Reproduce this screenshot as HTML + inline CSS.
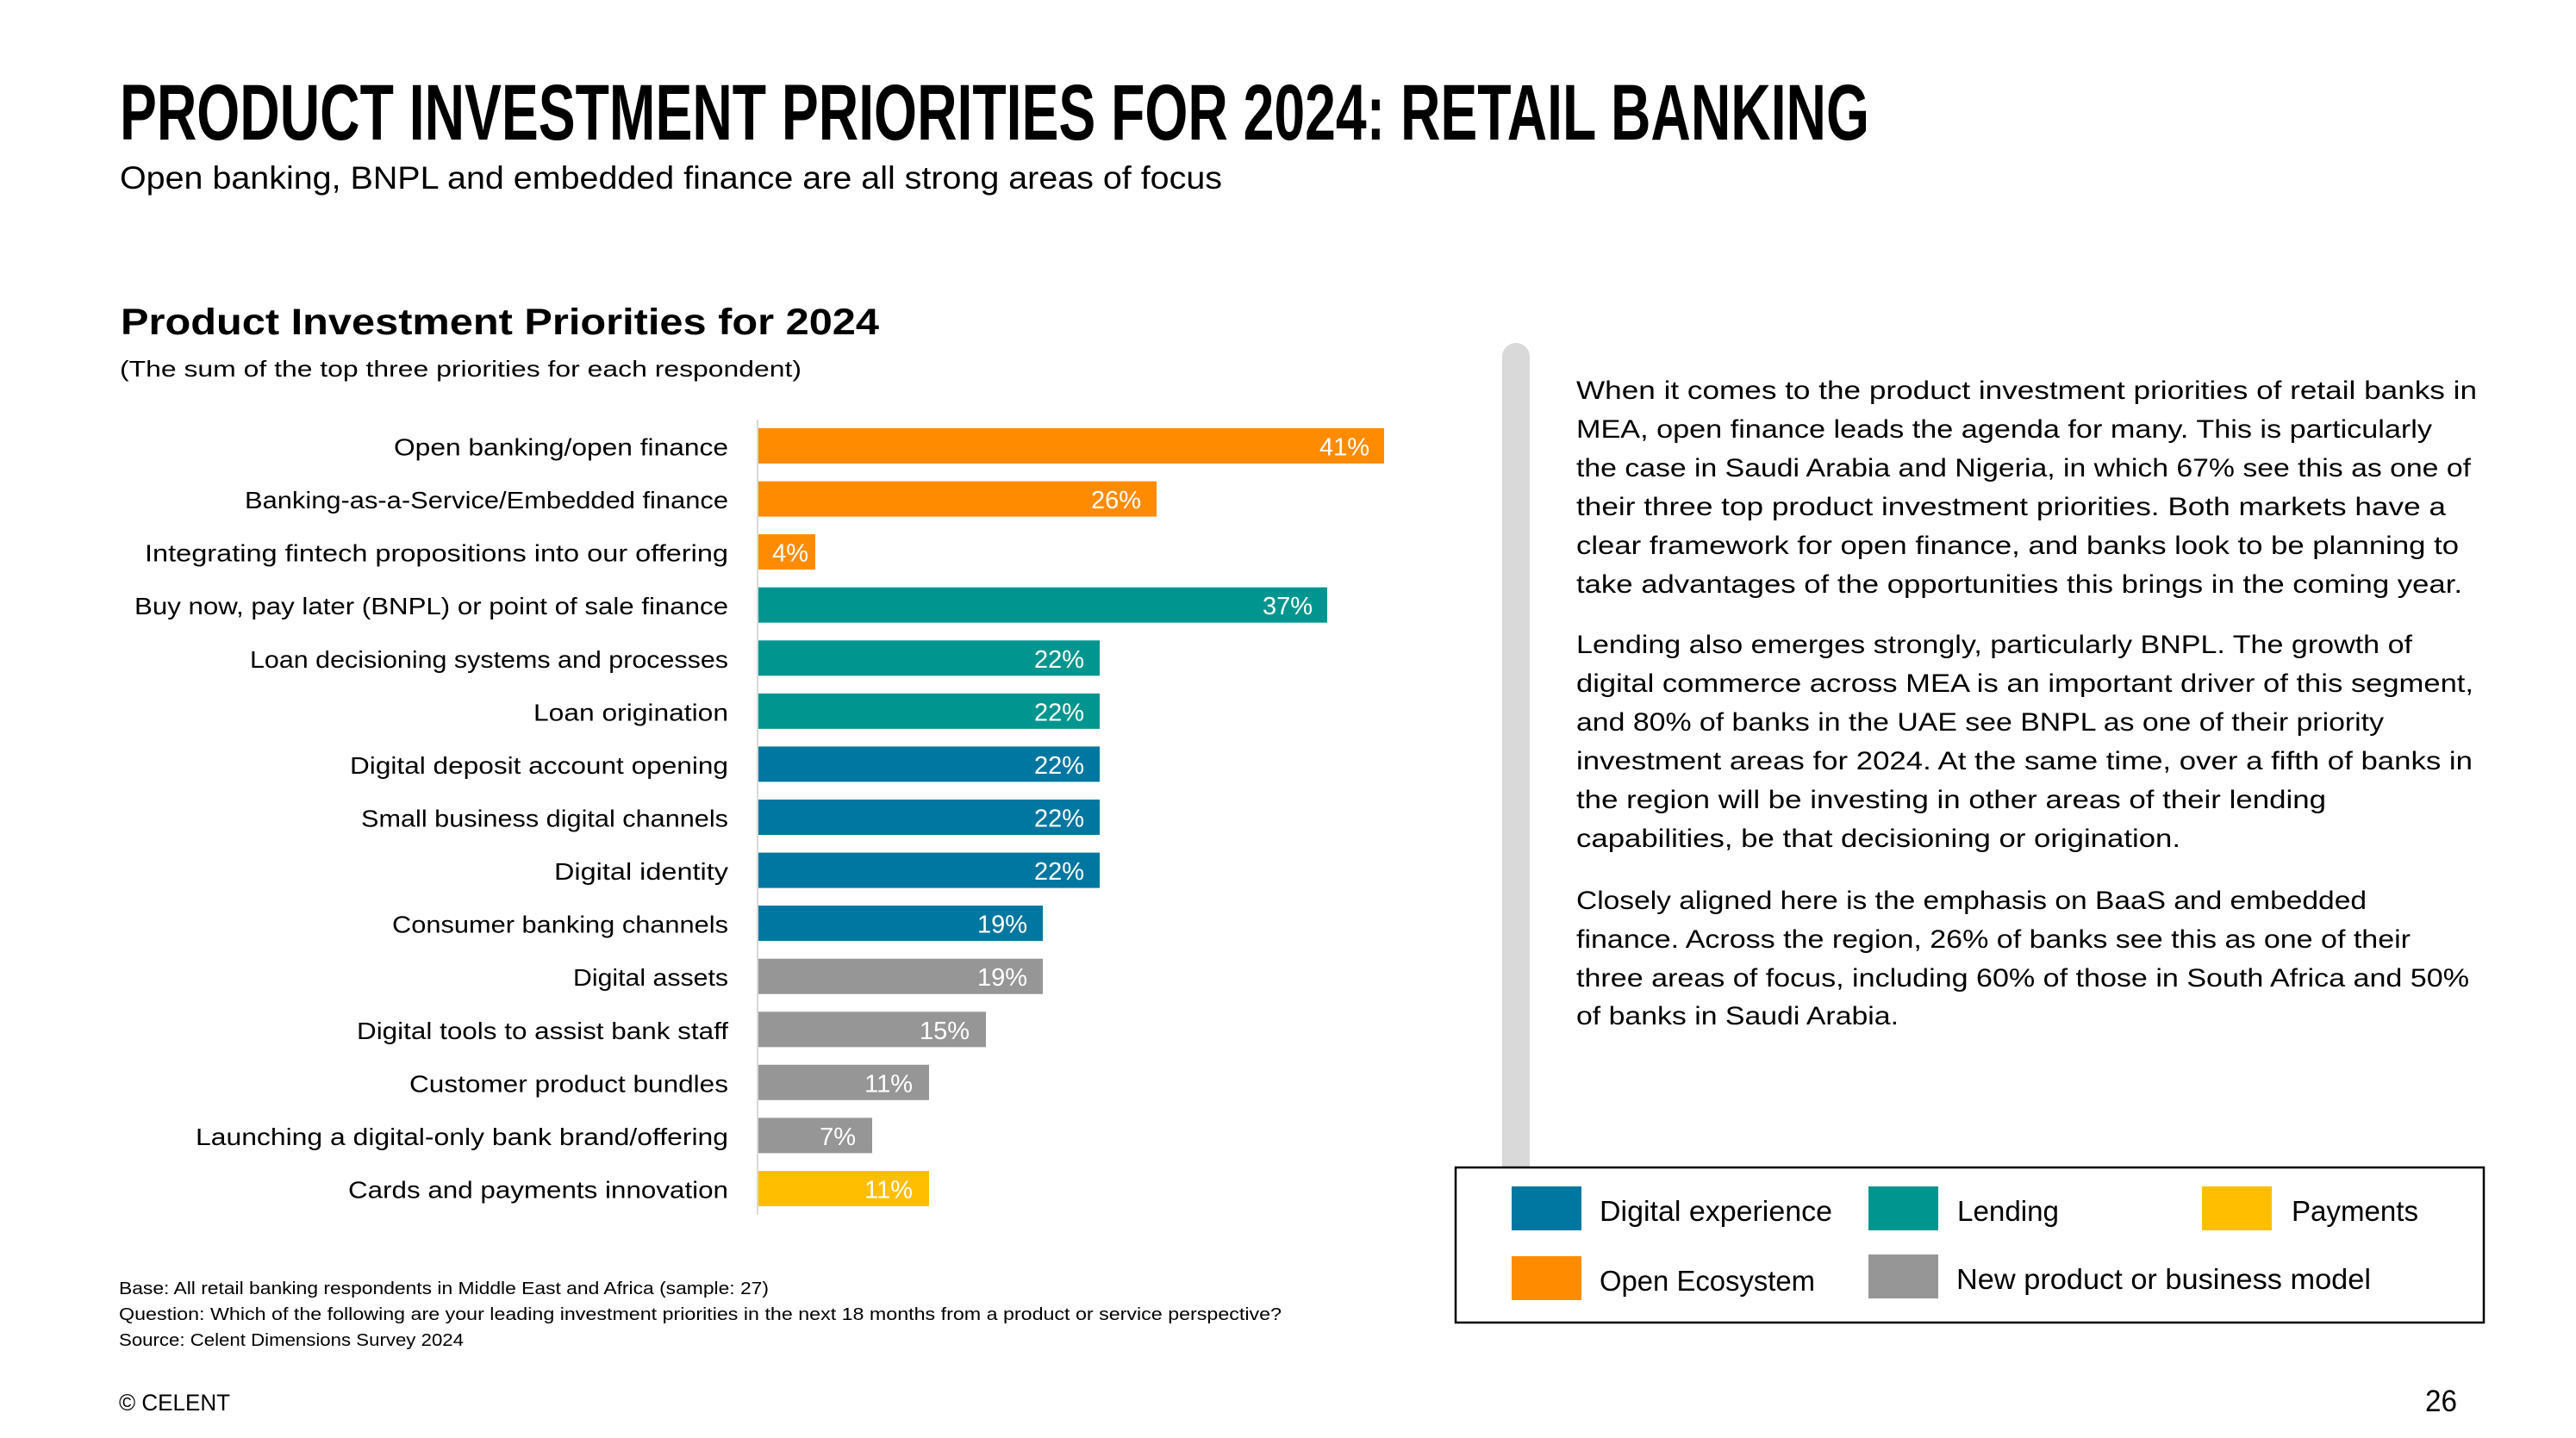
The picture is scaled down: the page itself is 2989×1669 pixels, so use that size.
<!DOCTYPE html>
<html>
<head>
<meta charset="utf-8">
<style>
  html, body { margin: 0; padding: 0; background: #ffffff; }
  body { width: 2989px; height: 1669px; overflow: hidden; }
  svg { display: block; font-family: "Liberation Sans", sans-serif; }
</style>
</head>
<body>
<svg xmlns="http://www.w3.org/2000/svg" width="2989" height="1669" viewBox="0 0 2989 1669" fill="#000000">
  <rect x="0" y="0" width="2989" height="1669" fill="#ffffff"/>

  <!-- Page title -->
  <text x="139" y="162" font-size="92" font-weight="bold" textLength="2030" lengthAdjust="spacingAndGlyphs">PRODUCT INVESTMENT PRIORITIES FOR 2024: RETAIL BANKING</text>
  <text x="139" y="219" font-size="37" textLength="1279" lengthAdjust="spacingAndGlyphs">Open banking, BNPL and embedded finance are all strong areas of focus</text>

  <!-- Chart title -->
  <text x="140" y="388" font-size="43" font-weight="bold" textLength="880" lengthAdjust="spacingAndGlyphs">Product Investment Priorities for 2024</text>
  <text x="139" y="437" font-size="26" textLength="791" lengthAdjust="spacingAndGlyphs">(The sum of the top three priorities for each respondent)</text>

  <!-- Axis line -->
  <line x1="879" y1="487" x2="879" y2="1410" stroke="#d9d9d9" stroke-width="2"/>

  <!-- Bars -->
  <g>
    <rect x="880" y="497"    width="726" height="41" fill="#FF8C00"/>
    <rect x="880" y="558.6"  width="462" height="41" fill="#FF8C00"/>
    <rect x="880" y="620.1"  width="66"  height="41" fill="#FF8C00"/>
    <rect x="880" y="681.7"  width="660" height="41" fill="#00968F"/>
    <rect x="880" y="743.3"  width="396" height="41" fill="#00968F"/>
    <rect x="880" y="804.9"  width="396" height="41" fill="#00968F"/>
    <rect x="880" y="866.4"  width="396" height="41" fill="#0077A0"/>
    <rect x="880" y="928.0"  width="396" height="41" fill="#0077A0"/>
    <rect x="880" y="989.6"  width="396" height="41" fill="#0077A0"/>
    <rect x="880" y="1051.1" width="330" height="41" fill="#0077A0"/>
    <rect x="880" y="1112.7" width="330" height="41" fill="#969696"/>
    <rect x="880" y="1174.3" width="264" height="41" fill="#969696"/>
    <rect x="880" y="1235.8" width="198" height="41" fill="#969696"/>
    <rect x="880" y="1297.4" width="132" height="41" fill="#969696"/>
    <rect x="880" y="1359.0" width="198" height="41" fill="#FFBF00"/>
  </g>

  <!-- Value labels -->
  <g font-size="29" text-anchor="end" fill="#ffffff">
    <text x="1589" y="528.5">41%</text>
    <text x="1324" y="590.1">26%</text>
    <text x="938"  y="651.6">4%</text>
    <text x="1523" y="713.2">37%</text>
    <text x="1258" y="774.8">22%</text>
    <text x="1258" y="836.4">22%</text>
    <text x="1258" y="897.9">22%</text>
    <text x="1258" y="959.5">22%</text>
    <text x="1258" y="1021.1">22%</text>
    <text x="1192" y="1082.6">19%</text>
    <text x="1192" y="1144.2">19%</text>
    <text x="1125" y="1205.8">15%</text>
    <text x="1059" y="1267.3">11%</text>
    <text x="993"  y="1328.9">7%</text>
    <text x="1059" y="1390.5">11%</text>
  </g>

  <!-- Category labels -->
  <g font-size="28" fill="#000000">
    <text x="457" y="528.5"  textLength="388" lengthAdjust="spacingAndGlyphs">Open banking/open finance</text>
    <text x="284" y="590.1"  textLength="561" lengthAdjust="spacingAndGlyphs">Banking-as-a-Service/Embedded finance</text>
    <text x="168" y="651.6"  textLength="677" lengthAdjust="spacingAndGlyphs">Integrating fintech propositions into our offering</text>
    <text x="156" y="713.2"  textLength="689" lengthAdjust="spacingAndGlyphs">Buy now, pay later (BNPL) or point of sale finance</text>
    <text x="290" y="774.8"  textLength="555" lengthAdjust="spacingAndGlyphs">Loan decisioning systems and processes</text>
    <text x="619" y="836.4"  textLength="226" lengthAdjust="spacingAndGlyphs">Loan origination</text>
    <text x="406" y="897.9"  textLength="439" lengthAdjust="spacingAndGlyphs">Digital deposit account opening</text>
    <text x="419" y="959.5"  textLength="426" lengthAdjust="spacingAndGlyphs">Small business digital channels</text>
    <text x="643" y="1021.1" textLength="202" lengthAdjust="spacingAndGlyphs">Digital identity</text>
    <text x="455" y="1082.6" textLength="390" lengthAdjust="spacingAndGlyphs">Consumer banking channels</text>
    <text x="665" y="1144.2" textLength="180" lengthAdjust="spacingAndGlyphs">Digital assets</text>
    <text x="414" y="1205.8" textLength="431" lengthAdjust="spacingAndGlyphs">Digital tools to assist bank staff</text>
    <text x="475" y="1267.3" textLength="370" lengthAdjust="spacingAndGlyphs">Customer product bundles</text>
    <text x="227" y="1328.9" textLength="618" lengthAdjust="spacingAndGlyphs">Launching a digital-only bank brand/offering</text>
    <text x="404" y="1390.5" textLength="441" lengthAdjust="spacingAndGlyphs">Cards and payments innovation</text>
  </g>

  <!-- Footnotes -->
  <g font-size="20" fill="#000000">
    <text x="138" y="1502" textLength="754" lengthAdjust="spacingAndGlyphs">Base: All retail banking respondents in Middle East and Africa (sample: 27)</text>
    <text x="138" y="1532" textLength="1349" lengthAdjust="spacingAndGlyphs">Question: Which of the following are your leading investment priorities in the next 18 months from a product or service perspective?</text>
    <text x="138" y="1562" textLength="400" lengthAdjust="spacingAndGlyphs">Source: Celent Dimensions Survey 2024</text>
  </g>
  <text x="138" y="1637" font-size="27" textLength="129" lengthAdjust="spacingAndGlyphs">© CELENT</text>
  <text x="2814" y="1638" font-size="35" textLength="37" lengthAdjust="spacingAndGlyphs">26</text>

  <!-- Separator bar -->
  <path d="M1743 1355 L1743 414 A16 16 0 0 1 1775 414 L1775 1355 Z" fill="#d9d9d9"/>

  <!-- Right paragraphs -->
  <g font-size="30" fill="#000000">
    <text x="1829" y="463" textLength="1045" lengthAdjust="spacingAndGlyphs">When it comes to the product investment priorities of retail banks in</text>
    <text x="1829" y="508" textLength="993"  lengthAdjust="spacingAndGlyphs">MEA, open finance leads the agenda for many. This is particularly</text>
    <text x="1829" y="553" textLength="1038" lengthAdjust="spacingAndGlyphs">the case in Saudi Arabia and Nigeria, in which 67% see this as one of</text>
    <text x="1829" y="598" textLength="1009" lengthAdjust="spacingAndGlyphs">their three top product investment priorities. Both markets have a</text>
    <text x="1829" y="643" textLength="1024" lengthAdjust="spacingAndGlyphs">clear framework for open finance, and banks look to be planning to</text>
    <text x="1829" y="688" textLength="1028" lengthAdjust="spacingAndGlyphs">take advantages of the opportunities this brings in the coming year.</text>

    <text x="1829" y="758" textLength="970"  lengthAdjust="spacingAndGlyphs">Lending also emerges strongly, particularly BNPL. The growth of</text>
    <text x="1829" y="803" textLength="1041" lengthAdjust="spacingAndGlyphs">digital commerce across MEA is an important driver of this segment,</text>
    <text x="1829" y="848" textLength="937"  lengthAdjust="spacingAndGlyphs">and 80% of banks in the UAE see BNPL as one of their priority</text>
    <text x="1829" y="893" textLength="1040" lengthAdjust="spacingAndGlyphs">investment areas for 2024. At the same time, over a fifth of banks in</text>
    <text x="1829" y="938" textLength="870"  lengthAdjust="spacingAndGlyphs">the region will be investing in other areas of their lending</text>
    <text x="1829" y="983" textLength="701"  lengthAdjust="spacingAndGlyphs">capabilities, be that decisioning or origination.</text>

    <text x="1829" y="1055" textLength="917"  lengthAdjust="spacingAndGlyphs">Closely aligned here is the emphasis on BaaS and embedded</text>
    <text x="1829" y="1100" textLength="968"  lengthAdjust="spacingAndGlyphs">finance. Across the region, 26% of banks see this as one of their</text>
    <text x="1829" y="1145" textLength="1036" lengthAdjust="spacingAndGlyphs">three areas of focus, including 60% of those in South Africa and 50%</text>
    <text x="1829" y="1189" textLength="374"  lengthAdjust="spacingAndGlyphs">of banks in Saudi Arabia.</text>
  </g>

  <!-- Legend -->
  <rect x="1689" y="1355" width="1193" height="180" fill="#ffffff" stroke="#000000" stroke-width="2.5"/>
  <rect x="1754" y="1377" width="81" height="51" fill="#0077A0"/>
  <rect x="2168" y="1377" width="81" height="51" fill="#00968F"/>
  <rect x="2555" y="1377" width="81" height="51" fill="#FFBF00"/>
  <rect x="1754" y="1458" width="81" height="51" fill="#FF8C00"/>
  <rect x="2168" y="1456" width="81" height="51" fill="#969696"/>
  <g font-size="33" fill="#000000">
    <text x="1856" y="1417" textLength="270" lengthAdjust="spacingAndGlyphs">Digital experience</text>
    <text x="2271" y="1417" textLength="118" lengthAdjust="spacingAndGlyphs">Lending</text>
    <text x="2659" y="1417" textLength="147" lengthAdjust="spacingAndGlyphs">Payments</text>
    <text x="1856" y="1498" textLength="250" lengthAdjust="spacingAndGlyphs">Open Ecosystem</text>
    <text x="2270" y="1496" textLength="481" lengthAdjust="spacingAndGlyphs">New product or business model</text>
  </g>
</svg>
</body>
</html>
